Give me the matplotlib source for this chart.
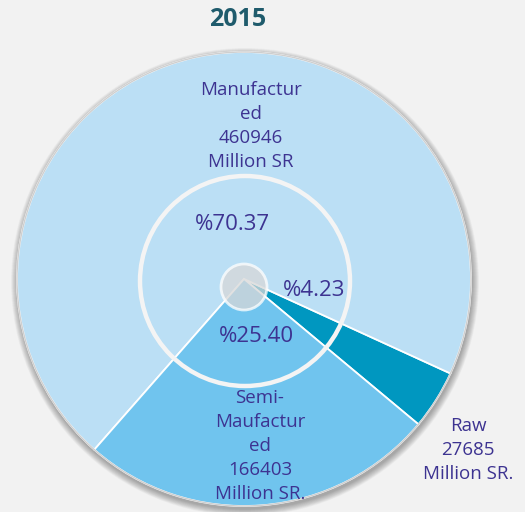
import matplotlib.pyplot as plt
from matplotlib.patches import Circle

# Daten
labels = ['Raw', 'Manufactured', 'Semi-Manufactured']
values = [27685, 460946, 166403]
percent_labels = ['%4.23', '%70.37', '%25.40']
name_labels = ['Raw\n27685\nMillion SR.',
               'Manufactur\ned\n460946\nMillion SR',
               'Semi-\nMaufactur\ned\n166403\nMillion SR.']
colors = ['#0097c0', '#bbdff5', '#70c4ee']
title = '2015'

W, H = 525, 512
cx, cy, R = 244, 512 - 279, 227
txt_col = '#3d3391'

plt.rcParams['font.family'] = ['Open Sans', 'DejaVu Sans']

fig = plt.figure(figsize=(W / 100, H / 100), dpi=100)
fig.patch.set_facecolor('#f2f2f2')
ax = fig.add_axes([0, 0, 1, 1])
ax.set_facecolor('#f2f2f2')

# Schatten
for k in range(14):
    ax.add_patch(Circle((cx + 1, cy - 3), R + 7 - k * 0.5, color='black',
                        alpha=0.025, lw=0, zorder=0))

wedges, _ = ax.pie(values, colors=colors, startangle=-39.8, counterclock=True,
                   center=(cx, cy), radius=R,
                   wedgeprops=dict(edgecolor='white', linewidth=1.3))
for w in wedges:
    w.set_zorder(1)
ax.add_patch(Circle((cx, cy), R, fill=False, edgecolor='#cfcfcf', lw=1.0, zorder=2))

# Innerer Ring und Mittelpunkt
ax.add_patch(Circle((cx + 1, cy - 2), 105, fill=False, edgecolor='#f4f4f4', lw=3.2, zorder=3))
ax.add_patch(Circle((cx, cy - 8), 23, facecolor='#d8d8d8', alpha=0.75,
                    edgecolor='white', lw=2, zorder=4))

# Beschriftungen
pct_pos = [(314, 290), (232, 225), (256, 336)]
name_pos = [(468, 450), (251, 126), (260, 446)]
for p, (x, y) in zip(percent_labels, pct_pos):
    ax.text(x, H - y, p, ha='center', va='center', fontsize=16, color=txt_col, zorder=5)
for n, (x, y) in zip(name_labels, name_pos):
    ax.text(x, H - y, n, ha='center', va='center', fontsize=13.5, color=txt_col,
            linespacing=1.42, zorder=5)

ax.text(238, H - 20, title, ha='center', va='center', fontsize=18,
        fontweight='bold', color='#1f5b6c')

ax.set_xlim(0, W)
ax.set_ylim(0, H)
ax.set_aspect('equal')
ax.axis('off')

plt.savefig('out.png', dpi=100, facecolor=fig.get_facecolor())
